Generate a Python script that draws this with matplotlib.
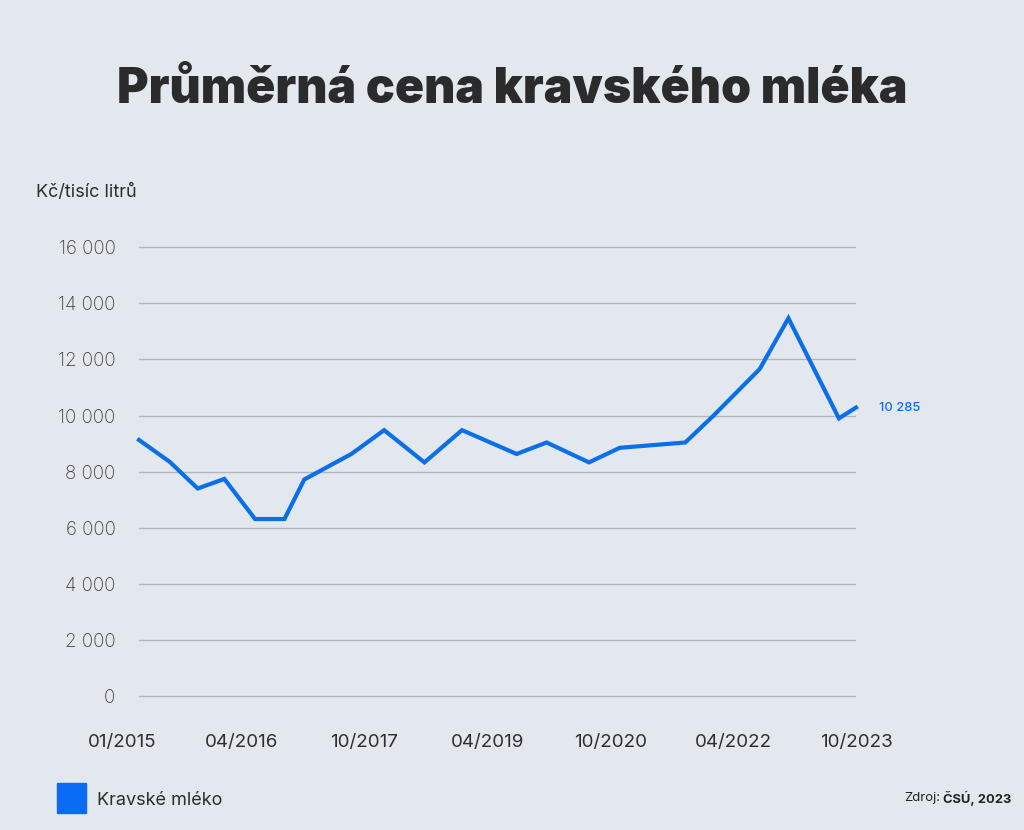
import matplotlib
matplotlib.use("Agg")
import matplotlib.pyplot as plt
from matplotlib.patches import Rectangle
from matplotlib.ticker import FuncFormatter
from matplotlib.transforms import blended_transform_factory

plt.rcParams['font.family'] = ['Inter', 'DejaVu Sans']

# měsíce od 01/2015 a cena v Kč za tisíc litrů
mesice = [0, 4.5, 8.6, 12.5, 17.0, 21.3, 24.2, 31.1, 35.9, 41.8, 47.3,
          55.3, 59.7, 65.9, 70.4, 80.0, 84.1, 90.9, 95.1, 102.5, 105]
cena = [9130, 8350, 7400, 7740, 6310, 6310, 7720, 8630, 9480, 8330, 9480,
        8630, 9040, 8330, 8850, 9040, 9990, 11660, 13470, 9900, 10285]

popisky_x = ["01/2015", "04/2016", "10/2017", "04/2019", "10/2020", "04/2022", "10/2023"]
pozice_x = [-2.4, 15, 33, 51, 69, 87, 105]
hodnoty_y = [0, 2000, 4000, 6000, 8000, 10000, 12000, 14000, 16000]

bg = '#e3e8ef'
modra = '#0b6fe8'

fig = plt.figure(figsize=(10.24, 8.3), dpi=100, facecolor=bg)
ax = fig.add_axes([139/1024, 1 - 697.7/830, (856-139)/1024, (697.7-245.6)/830])
ax.set_facecolor(bg)

ax.plot(mesice, cena, color=modra, lw=3, solid_joinstyle='miter', clip_on=False, zorder=3)
ax.text(mesice[-1] + 3.3, cena[-1], "10 285", color=modra, fontsize=9.3,
        va='center', ha='left', fontweight='medium')

ax.set_xlim(0, 105)
ax.set_ylim(-60, 16060)
ax.set_yticks(hodnoty_y)
ax.yaxis.set_major_formatter(FuncFormatter(lambda v, p: f"{int(v):,}".replace(",", " ")))
ax.tick_params(axis='y', length=0, pad=17, labelsize=13.5, labelcolor='#3f3f3f')
for lab in ax.get_yticklabels():
    lab.set_fontweight('light')
ax.set_xticks([])
ax.grid(axis='y', color='#b2b6bc', lw=1)
for s in ax.spines.values():
    s.set_visible(False)

trans = blended_transform_factory(ax.transData, ax.transAxes)
for p, t in zip(pozice_x, popisky_x):
    ax.text(p, -0.1, t, transform=trans, ha='center', va='center',
            fontsize=13.5, color='#2e2e2e', clip_on=False)

fig.text(0.5, 1 - 103/830, "Průměrná cena kravského mléka", ha='center', va='baseline',
         fontsize=34.7, fontweight='black', color='#2b2b2b')
fig.text(36/1024, 1 - 192/830, "Kč/tisíc litrů", ha='left', va='center',
         fontsize=13, color='#2e2e2e')

fig.patches.append(Rectangle((57/1024, 1 - 813/830), 29/1024, 30/830,
                             transform=fig.transFigure, color='#0a6cf5'))
fig.text(97/1024, 1 - 800/830, "Kravské mléko", ha='left', va='center',
         fontsize=13, color='#2e2e2e')
fig.text(943/1024, 1 - 798/830, "ČSÚ, 2023", ha='left', va='center',
         fontsize=9.3, fontweight='bold', color='#222222')
fig.text(940/1024, 1 - 798/830, "Zdroj:", ha='right', va='center',
         fontsize=9.5, color='#222222')

fig.savefig("out.png", dpi=100, facecolor=bg)
